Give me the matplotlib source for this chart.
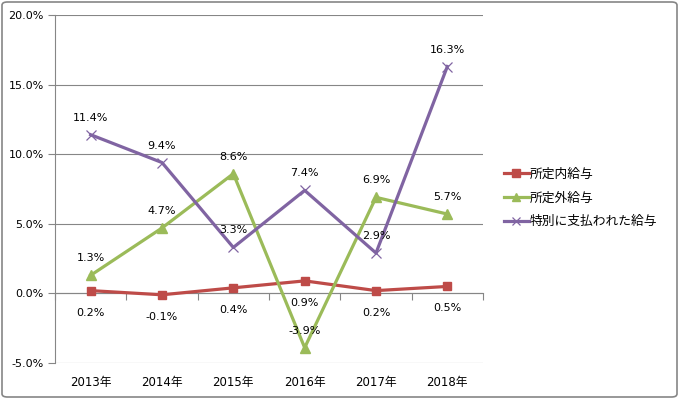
import matplotlib
matplotlib.use("Agg")
import matplotlib.pyplot as plt
import matplotlib.transforms as mtransforms
from matplotlib.patches import FancyBboxPatch
from matplotlib.ticker import FuncFormatter, FixedLocator

plt.rcParams['font.family'] = ['DejaVu Sans', 'Noto Sans CJK JP']

years = ["2013年", "2014年", "2015年", "2016年", "2017年", "2018年"]
series_names = ["所定内給与", "所定外給与", "特別に支払われた給与"]
shoteinai = [0.2, -0.1, 0.4, 0.9, 0.2, 0.5]
shoteigai = [1.3, 4.7, 8.6, -3.9, 6.9, 5.7]
tokubetsu = [11.4, 9.4, 3.3, 7.4, 2.9, 16.3]
y_ticks = [-5, 0, 5, 10, 15, 20]

colors = ["#BE4B48", "#9BBB59", "#8064A2"]

fig = plt.figure(figsize=(6.79, 3.99), dpi=100)
ax = fig.add_axes([55/679, 1-363/399, (483-55)/679, (363-15)/399])

x = list(range(len(years)))
l1, = ax.plot(x, shoteinai, color=colors[0], lw=2.3, marker='s', ms=6,
              mfc=colors[0], mec=colors[0], zorder=3)
l2, = ax.plot(x, shoteigai, color=colors[1], lw=2.3, marker='^', ms=7,
              mfc=colors[1], mec=colors[1], zorder=3)
l3, = ax.plot(x, tokubetsu, color=colors[2], lw=2.3, marker='x', ms=7,
              mew=0.9, mec=colors[2], zorder=3)

def fmt(v):
    return f"{v:.1f}%"

for xi, v in zip(x, shoteinai):
    ax.annotate(fmt(v), (xi, v), xytext=(0, -22), textcoords='offset pixels',
                ha='center', va='center', fontsize=8, color='black')
for xi, v in zip(x, shoteigai):
    ax.annotate(fmt(v), (xi, v), xytext=(0, 17), textcoords='offset pixels',
                ha='center', va='center', fontsize=8, color='black')
for xi, v in zip(x, tokubetsu):
    ax.annotate(fmt(v), (xi, v), xytext=(0, 17), textcoords='offset pixels',
                ha='center', va='center', fontsize=8, color='black')

ax.set_xlim(-0.5, len(years) - 0.5)
ax.set_ylim(-5, 20)

grid_c = "#868686"
ax.yaxis.set_major_locator(FixedLocator(y_ticks))
ax.yaxis.set_major_formatter(FuncFormatter(lambda v, p: f"{v:.1f}%"))
ax.grid(axis='y', color=grid_c, lw=0.8)
ax.set_axisbelow(True)
ax.tick_params(axis='y', length=5, width=0.8, color=grid_c, labelsize=8, pad=3)

# x axis at zero with tick marks at category boundaries
ax.spines['bottom'].set_position(('data', 0))
ax.spines['bottom'].set_color(grid_c)
ax.spines['bottom'].set_linewidth(0.8)
ax.set_xticks([i - 0.5 for i in range(len(years) + 1)])
ax.set_xticklabels([])
ax.tick_params(axis='x', length=5, width=0.8, color=grid_c, direction='out')
ax.spines['left'].set_color(grid_c)
ax.spines['left'].set_linewidth(0.8)
ax.spines['top'].set_visible(False)
ax.spines['right'].set_visible(False)

trans = mtransforms.blended_transform_factory(ax.transData, ax.transAxes)
for xi, lab in zip(x, years):
    ax.text(xi, -0.055, lab, transform=trans, ha='center', va='center',
            fontsize=8.5, family=['DejaVu Sans', 'Noto Sans CJK JP'])

leg = fig.legend([l1, l2, l3], series_names, loc='center left',
                 bbox_to_anchor=(492/679, 1-198/399), frameon=False,
                 prop={'family': ['Noto Sans CJK JP'], 'size': 9.2},
                 handlelength=2.0, handletextpad=0.05, labelspacing=0.85,
                 markerscale=0.9)

border = FancyBboxPatch((2/679, 2/399), 1-4/679, 1-4/399,
                        boxstyle="round,pad=0,rounding_size=0.008",
                        transform=fig.transFigure, fill=False,
                        edgecolor="#868686", lw=1.2)
fig.patches.append(border)

fig.savefig("out.png", dpi=100)
